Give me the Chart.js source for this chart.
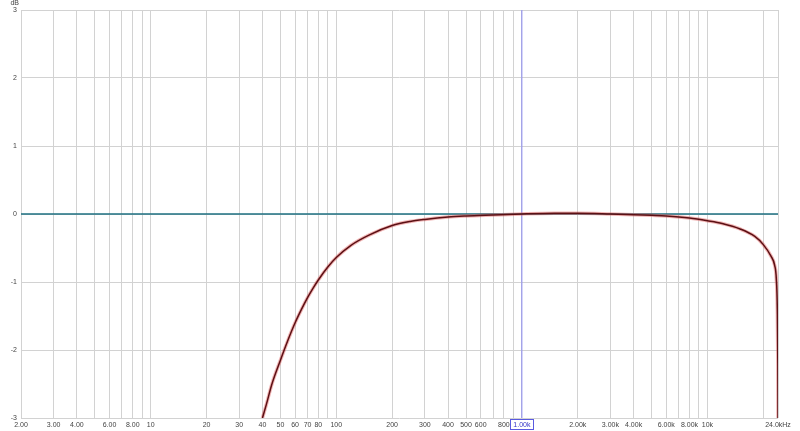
<!DOCTYPE html>
<html>
<head>
<meta charset="utf-8">
<script src="https://cdn.jsdelivr.net/npm/chart.js@4/dist/chart.umd.min.js"></script>
<style>
  html, body { margin: 0; padding: 0; background: #fff; }
  #wrap { width: 800px; height: 431px; }
</style>
</head>
<body>
<div id="wrap"><canvas id="fr"></canvas></div>
<script>
// frequency response
const freqs = [40, 42, 45, 50, 55, 60, 65, 70, 75, 80, 90, 100, 120, 150, 200, 250, 300, 400, 500, 700,
  1000, 1500, 2000, 3000, 4000, 5000, 6000, 8000, 10000, 12000, 15000, 18000, 20000, 22000,
  23000, 23500, 23800, 23950, 24000];
const dbVals = [-3.0, -2.8, -2.5, -2.15, -1.85, -1.6, -1.4, -1.23, -1.09, -0.97, -0.78, -0.64, -0.46, -0.31,
  -0.17, -0.11, -0.08, -0.045, -0.03, -0.015, 0, 0.01, 0.01, 0.0, -0.01, -0.02, -0.03, -0.06, -0.1,
  -0.14, -0.22, -0.33, -0.45, -0.62, -0.75, -0.95, -1.4, -2.2, -3.0];

// flat reference line and cursor
const refFreqs = [2, 24000];
const refVals = [0, 0];
const cursorFreq = 1000;

// grid lines and which of them get a label
const gridFreqs = [2, 3, 4, 5, 6, 7, 8, 9, 10, 20, 30, 40, 50, 60, 70, 80, 90, 100, 200, 300, 400,
  500, 600, 700, 800, 900, 1000, 2000, 3000, 4000, 5000, 6000, 7000, 8000, 9000, 10000, 20000, 24000];
const tickLabels = {
  2: '2.00', 3: '3.00', 4: '4.00', 6: '6.00', 8: '8.00', 10: '10', 20: '20', 30: '30', 40: '40',
  50: '50', 60: '60', 70: '70', 80: '80', 100: '100', 200: '200', 300: '300', 400: '400', 500: '500',
  600: '600', 800: '800', 1000: '1.00k', 2000: '2.00k', 3000: '3.00k', 4000: '4.00k', 6000: '6.00k',
  8000: '8.00k', 10000: '10k', 24000: '24.0kHz'
};

const curve = freqs.map((f, i) => ({ x: f, y: dbVals[i] }));
const ref = refFreqs.map((f, i) => ({ x: f, y: refVals[i] }));

const extras = {
  id: 'extras',
  afterDraw(chart) {
    const c = chart.ctx;
    const xs = chart.scales.x;
    c.save();
    c.font = '7px "Liberation Sans", Arial, sans-serif';
    c.fillStyle = '#444';
    c.textAlign = 'right';
    c.textBaseline = 'top';
    c.fillText('dB', 19, 0);
    // box round the cursor label
    const px = Math.round(xs.getPixelForValue(cursorFreq));
    c.strokeStyle = '#5a5ae0';
    c.lineWidth = 1;
    c.strokeRect(px - 11.5, 419.5, 23, 10);
    c.restore();
  }
};

// lower "order" is drawn on top
new Chart(document.getElementById('fr'), {
  type: 'line',
  data: {
    datasets: [
      {
        data: curve,
        order: 1,
        borderColor: '#5c1014',
        borderWidth: 1.5,
        pointRadius: 0,
        cubicInterpolationMode: 'monotone'
      },
      {
        data: curve,
        order: 2,
        borderColor: 'rgba(225, 90, 90, 0.45)',
        borderWidth: 3.5,
        pointRadius: 0,
        cubicInterpolationMode: 'monotone'
      },
      {
        data: ref,
        order: 3,
        borderColor: '#1d6f80',
        borderWidth: 1.6,
        pointRadius: 0
      },
      {
        data: [{ x: cursorFreq, y: -3 }, { x: cursorFreq, y: 3 }],
        order: 4,
        borderColor: '#8a8af2',
        borderWidth: 1,
        pointRadius: 0
      }
    ]
  },
  options: {
    responsive: true,
    maintainAspectRatio: false,
    animation: false,
    layout: { padding: { top: 10, right: 22, left: 0, bottom: 0 } },
    plugins: {
      legend: { display: false },
      tooltip: { enabled: false }
    },
    scales: {
      x: {
        type: 'logarithmic',
        min: 2,
        max: 24000,
        afterBuildTicks: (s) => { s.ticks = gridFreqs.map(v => ({ value: v })); },
        afterFit: (s) => { s.height = 13; },
        grid: { color: '#d2d2d2', drawTicks: false },
        border: { display: false },
        ticks: {
          autoSkip: false,
          maxRotation: 0,
          padding: 3,
          font: { family: '"Liberation Sans", Arial, sans-serif', size: 7 },
          color: (ctx) => ctx.tick && ctx.tick.value === cursorFreq ? '#3535c8' : '#444',
          callback: (v) => tickLabels[v] || ''
        }
      },
      y: {
        min: -3,
        max: 3,
        afterFit: (s) => { s.width = 21; },
        grid: { color: '#d2d2d2', drawTicks: false },
        border: { display: false },
        ticks: {
          stepSize: 1,
          padding: 4,
          font: { family: '"Liberation Sans", Arial, sans-serif', size: 7 },
          color: '#444'
        }
      }
    }
  },
  plugins: [extras]
});
</script>
</body>
</html>
